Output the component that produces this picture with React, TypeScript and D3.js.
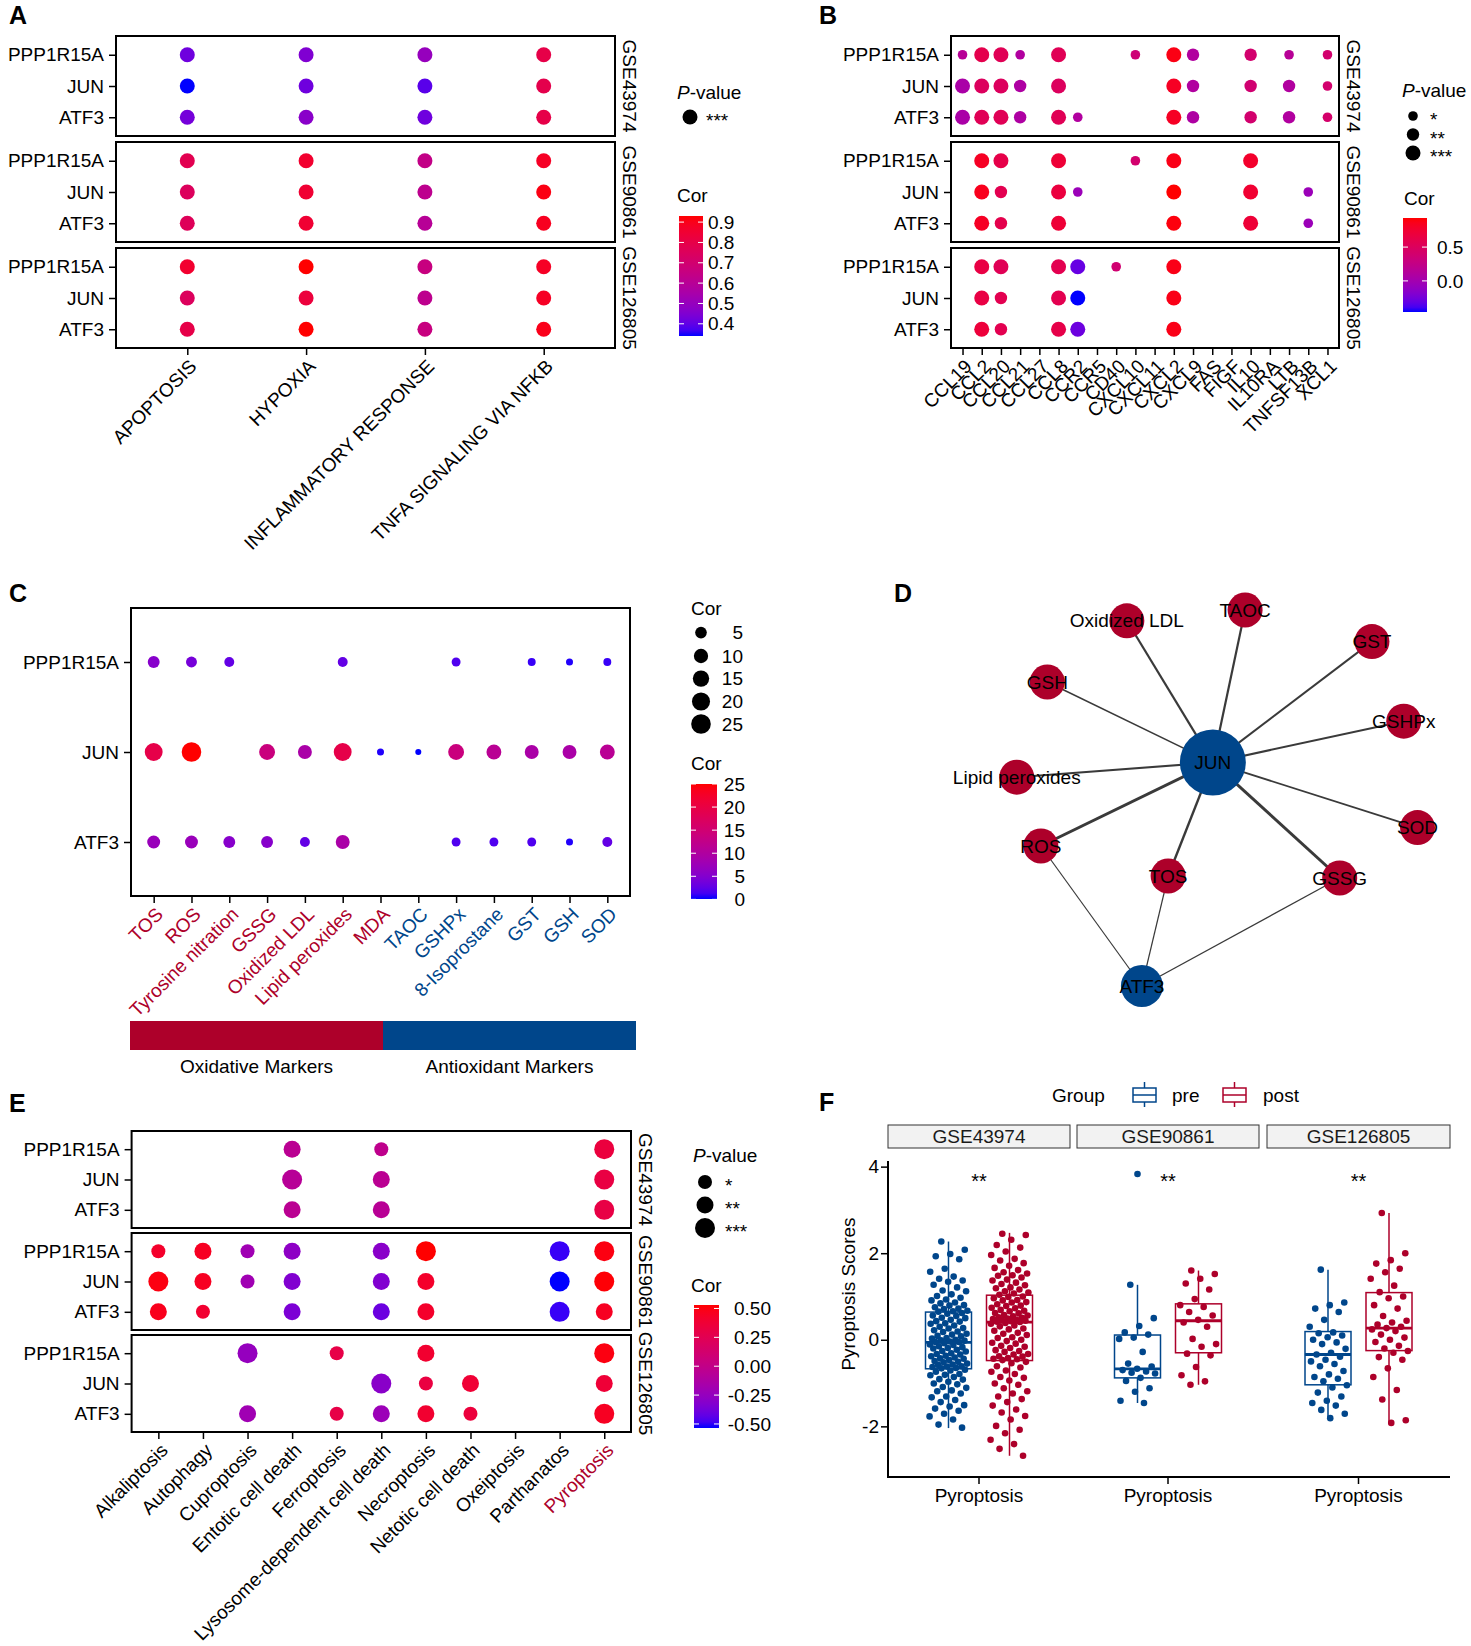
import * as d3 from "d3";
import { useEffect, useRef } from "react";

const FONT = "'Liberation Sans', Arial, Helvetica, sans-serif";
const FS = 19;
const RED = "#AD002A";
const BLUE = "#00468B";
const W = 1471;
const H = 1646;

const genes = ["PPP1R15A", "JUN", "ATF3"];
const datasets = ["GSE43974", "GSE90861", "GSE126805"];
const pStars = ["*", "**", "***"];

// ---- A: hallmark pathways (rows = genes, cols = pathways), all P < 0.001
const hallmarks = ["APOPTOSIS", "HYPOXIA", "INFLAMMATORY RESPONSE", "TNFA SIGNALING VIA NFKB"];
const aCorGSE43974 = [
  [0.42, 0.45, 0.5, 0.8],
  [0.34, 0.42, 0.39, 0.79],
  [0.43, 0.47, 0.42, 0.8],
];
const aCorGSE90861 = [
  [0.78, 0.86, 0.64, 0.88],
  [0.75, 0.85, 0.62, 0.91],
  [0.76, 0.85, 0.6, 0.89],
];
const aCorGSE126805 = [
  [0.86, 0.93, 0.66, 0.88],
  [0.75, 0.83, 0.62, 0.88],
  [0.8, 0.93, 0.66, 0.9],
];
const aTicks = [0.4, 0.5, 0.6, 0.7, 0.8, 0.9];

// ---- B: immune genes, [gene, item, cor, stars]
const chemokines = [
  "CCL19", "CCL2", "CCL20", "CCL21", "CCL27", "CCL8", "CCR2", "CCR5", "CD40", "CXCL10",
  "CXCL11", "CXCL2", "CXCL9", "FAS", "FIGF", "IL10", "IL10RA", "LTB", "TNFSF13B", "XCL1",
];
const bGSE43974 = [
  ["PPP1R15A", "CCL19", 0.15, 1], ["PPP1R15A", "CCL2", 0.6, 3], ["PPP1R15A", "CCL20", 0.55, 3],
  ["PPP1R15A", "CCL21", 0.1, 1], ["PPP1R15A", "CCL8", 0.55, 3], ["PPP1R15A", "CXCL10", 0.35, 1],
  ["PPP1R15A", "CXCL2", 0.88, 3], ["PPP1R15A", "CXCL9", 0.1, 2], ["PPP1R15A", "IL10", 0.4, 2],
  ["PPP1R15A", "LTB", 0.15, 1], ["PPP1R15A", "XCL1", 0.4, 1],
  ["JUN", "CCL19", 0.05, 3], ["JUN", "CCL2", 0.5, 3], ["JUN", "CCL20", 0.5, 3], ["JUN", "CCL21", 0.08, 2],
  ["JUN", "CCL8", 0.5, 3], ["JUN", "CXCL2", 0.82, 3], ["JUN", "CXCL9", 0.1, 2], ["JUN", "IL10", 0.38, 2],
  ["JUN", "LTB", 0.1, 2], ["JUN", "XCL1", 0.4, 1],
  ["ATF3", "CCL19", 0.05, 3], ["ATF3", "CCL2", 0.55, 3], ["ATF3", "CCL20", 0.55, 3], ["ATF3", "CCL21", 0.08, 2],
  ["ATF3", "CCL8", 0.55, 3], ["ATF3", "CCR2", 0.1, 1], ["ATF3", "CXCL2", 0.82, 3], ["ATF3", "CXCL9", 0.08, 2],
  ["ATF3", "IL10", 0.4, 2], ["ATF3", "LTB", 0.1, 2], ["ATF3", "XCL1", 0.42, 1],
];
const bGSE90861 = [
  ["PPP1R15A", "CCL2", 0.82, 3], ["PPP1R15A", "CCL20", 0.62, 3], ["PPP1R15A", "CCL8", 0.72, 3],
  ["PPP1R15A", "CXCL10", 0.4, 1], ["PPP1R15A", "CXCL2", 0.87, 3], ["PPP1R15A", "IL10", 0.78, 3],
  ["JUN", "CCL2", 0.85, 3], ["JUN", "CCL20", 0.58, 2], ["JUN", "CCL8", 0.68, 3], ["JUN", "CCR2", -0.05, 1],
  ["JUN", "CXCL2", 0.93, 3], ["JUN", "IL10", 0.75, 3], ["JUN", "TNFSF13B", -0.05, 1],
  ["ATF3", "CCL2", 0.82, 3], ["ATF3", "CCL20", 0.6, 2], ["ATF3", "CCL8", 0.72, 3],
  ["ATF3", "CXCL2", 0.9, 3], ["ATF3", "IL10", 0.72, 3], ["ATF3", "TNFSF13B", -0.05, 1],
];
const bGSE126805 = [
  ["PPP1R15A", "CCL2", 0.65, 3], ["PPP1R15A", "CCL20", 0.55, 3], ["PPP1R15A", "CCL8", 0.58, 3],
  ["PPP1R15A", "CCR2", -0.3, 3], ["PPP1R15A", "CD40", 0.38, 1], ["PPP1R15A", "CXCL2", 0.87, 3],
  ["JUN", "CCL2", 0.65, 3], ["JUN", "CCL20", 0.58, 2], ["JUN", "CCL8", 0.58, 3], ["JUN", "CCR2", -0.46, 3],
  ["JUN", "CXCL2", 0.87, 3],
  ["ATF3", "CCL2", 0.7, 3], ["ATF3", "CCL20", 0.58, 2], ["ATF3", "CCL8", 0.62, 3], ["ATF3", "CCR2", -0.28, 3],
  ["ATF3", "CXCL2", 0.87, 3],
];
const bTicks = [0, 0.5];

// ---- C: oxidative stress markers
const cMarkers = [
  "TOS", "ROS", "Tyrosine nitration", "GSSG", "Oxidized LDL", "Lipid peroxides", "MDA",
  "TAOC", "GSHPx", "8-Isoprostane", "GST", "GSH", "SOD",
];
const cMarkerGroup = ["ox", "ox", "ox", "ox", "ox", "ox", "ox", "anti", "anti", "anti", "anti", "anti", "anti"];
const cGroups = ["Oxidative Markers", "Antioxidant Markers"];
const cCorPPP1R15A = [5.4, 4.0, 2.7, null, null, 2.7, null, null, 1.7, null, 0.9, 0.4, 0.9];
const cCorJUN = [19.4, 25, null, 13.8, 9.2, 19.4, 0.4, 0.08, 13.8, 11.3, 9.2, 9.2, 11.3];
const cCorATF3 = [7.2, 7.2, 5.4, 5.4, 2.7, 9.2, null, null, 1.7, 1.7, 1.7, 0.4, 2.7];
const cSizeTicks = [5, 10, 15, 20, 25];
const cColorTicks = [0, 5, 10, 15, 20, 25];

// ---- D: network
const dNodes = ["JUN", "ATF3", "Oxidized LDL", "TAOC", "GST", "GSH", "GSHPx", "Lipid peroxides", "SOD", "ROS", "TOS", "GSSG"];
const dNodeKind = ["gene", "gene", "marker", "marker", "marker", "marker", "marker", "marker", "marker", "marker", "marker", "marker"];
const dLayoutX = [49.5, 33.0, 29.5, 57.0, 86.5, 11.0, 93.9, 3.9, 97.1, 9.5, 39.1, 79.0];
const dLayoutY = [40.6, 96.5, 5.2, 2.5, 10.4, 20.5, 30.3, 44.3, 56.9, 61.5, 69.0, 69.5];
const dEdges = [
  ["JUN", "Oxidized LDL", 2.2], ["JUN", "TAOC", 2.2], ["JUN", "GST", 2], ["JUN", "GSH", 1.6],
  ["JUN", "GSHPx", 2], ["JUN", "Lipid peroxides", 2], ["JUN", "SOD", 1.8], ["JUN", "ROS", 3],
  ["JUN", "TOS", 2.4], ["JUN", "GSSG", 3], ["ATF3", "ROS", 1.2], ["ATF3", "TOS", 1.2], ["ATF3", "GSSG", 1.2],
];

// ---- E: cell death types
const deathTypes = [
  "Alkaliptosis", "Autophagy", "Cuproptosis", "Entotic cell death", "Ferroptosis",
  "Lysosome-dependent cell death", "Necroptosis", "Netotic cell death", "Oxeiptosis", "Parthanatos", "Pyroptosis",
];
const eGSE43974 = [
  ["PPP1R15A", "Entotic cell death", -0.05, 2], ["PPP1R15A", "Lysosome-dependent cell death", -0.02, 1],
  ["PPP1R15A", "Pyroptosis", 0.34, 3],
  ["JUN", "Entotic cell death", -0.07, 3], ["JUN", "Lysosome-dependent cell death", -0.05, 2], ["JUN", "Pyroptosis", 0.32, 3],
  ["ATF3", "Entotic cell death", -0.05, 2], ["ATF3", "Lysosome-dependent cell death", -0.06, 2], ["ATF3", "Pyroptosis", 0.31, 3],
];
const eGSE90861 = [
  ["PPP1R15A", "Alkaliptosis", 0.42, 1], ["PPP1R15A", "Autophagy", 0.45, 2], ["PPP1R15A", "Cuproptosis", -0.2, 1],
  ["PPP1R15A", "Entotic cell death", -0.28, 2], ["PPP1R15A", "Lysosome-dependent cell death", -0.3, 2],
  ["PPP1R15A", "Necroptosis", 0.53, 3], ["PPP1R15A", "Parthanatos", -0.5, 3], ["PPP1R15A", "Pyroptosis", 0.5, 3],
  ["JUN", "Alkaliptosis", 0.5, 3], ["JUN", "Autophagy", 0.45, 2], ["JUN", "Cuproptosis", -0.2, 1],
  ["JUN", "Entotic cell death", -0.33, 2], ["JUN", "Lysosome-dependent cell death", -0.33, 2],
  ["JUN", "Necroptosis", 0.42, 2], ["JUN", "Parthanatos", -0.535, 3], ["JUN", "Pyroptosis", 0.52, 3],
  ["ATF3", "Alkaliptosis", 0.47, 2], ["ATF3", "Autophagy", 0.4, 1], ["ATF3", "Entotic cell death", -0.35, 2],
  ["ATF3", "Lysosome-dependent cell death", -0.4, 2], ["ATF3", "Necroptosis", 0.42, 2],
  ["ATF3", "Parthanatos", -0.5, 3], ["ATF3", "Pyroptosis", 0.45, 2],
];
const eGSE126805 = [
  ["PPP1R15A", "Cuproptosis", -0.25, 3], ["PPP1R15A", "Ferroptosis", 0.3, 1], ["PPP1R15A", "Necroptosis", 0.4, 2],
  ["PPP1R15A", "Pyroptosis", 0.5, 3],
  ["JUN", "Lysosome-dependent cell death", -0.3, 3], ["JUN", "Necroptosis", 0.33, 1],
  ["JUN", "Netotic cell death", 0.38, 2], ["JUN", "Pyroptosis", 0.37, 2],
  ["ATF3", "Cuproptosis", -0.2, 2], ["ATF3", "Ferroptosis", 0.3, 1], ["ATF3", "Lysosome-dependent cell death", -0.22, 2],
  ["ATF3", "Necroptosis", 0.4, 2], ["ATF3", "Netotic cell death", 0.35, 1], ["ATF3", "Pyroptosis", 0.45, 3],
];
const eTicks = [-0.5, -0.25, 0, 0.25, 0.5];

// ---- F: pyroptosis scores pre / post
const fGroups = ["pre", "post"];
const fTerm = "Pyroptosis";
const fSignif = ["**", "**", "**"];
const fSignifY = 3.85;
// [min whisker, Q1, median, Q3, max whisker]
const fPreStats = [[-2.04, -0.67, -0.06, 0.64, 2.27], [-1.46, -0.88, -0.67, 0.11, 1.27], [-1.81, -1.04, -0.34, 0.19, 1.62]];
const fPostStats = [[-2.68, -0.48, 0.41, 1.03, 2.47], [-1.04, -0.3, 0.44, 0.83, 1.6], [-1.92, -0.25, 0.27, 1.09, 2.93]];
const fPreOutliers = [[], [3.83], []];
const fPostOutliers = [[], [], []];
const fPreGSE43974 = [
  2.27, 2.08, 1.98, 1.93, 1.86, 1.64, 1.57, 1.46, 1.41, 1.37, 1.34, 1.27, 1.21, 1.14, 1.12, 1.05, 1.01, 0.97, 0.93, 0.91,
  0.86, 0.84, 0.8, 0.79, 0.75, 0.72, 0.71, 0.67, 0.66, 0.65, 0.62, 0.6, 0.56, 0.55, 0.51, 0.5, 0.46, 0.43, 0.42, 0.38,
  0.37, 0.33, 0.3, 0.27, 0.26, 0.22, 0.19, 0.18, 0.14, 0.12, 0.09, 0.08, 0.04, 0.03, 0.0, -0.01, -0.02, -0.04, -0.05, -0.05,
  -0.08, -0.11, -0.12, -0.15, -0.17, -0.19, -0.2, -0.23, -0.26, -0.27, -0.31, -0.33, -0.34, -0.37, -0.38, -0.41, -0.43,
  -0.44, -0.47, -0.49, -0.51, -0.52, -0.55, -0.57, -0.58, -0.61, -0.62, -0.63, -0.65, -0.66, -0.69, -0.71, -0.74, -0.79,
  -0.81, -0.82, -0.86, -0.91, -0.92, -0.97, -1.01, -1.03, -1.09, -1.11, -1.17, -1.19, -1.24, -1.31, -1.33, -1.39, -1.44,
  -1.51, -1.54, -1.59, -1.64, -1.71, -1.77, -1.84, -1.96, -2.03,
];
const fPostGSE43974 = [
  2.45, 2.42, 2.31, 2.19, 2.13, 2.04, 1.96, 1.87, 1.83, 1.77, 1.71, 1.66, 1.61, 1.56, 1.53, 1.49, 1.48, 1.44, 1.39, 1.37,
  1.32, 1.29, 1.26, 1.21, 1.19, 1.16, 1.12, 1.09, 1.07, 1.04, 1.0, 0.99, 0.96, 0.92, 0.91, 0.87, 0.86, 0.82, 0.79, 0.78,
  0.74, 0.73, 0.69, 0.67, 0.66, 0.62, 0.61, 0.57, 0.56, 0.54, 0.52, 0.51, 0.49, 0.48, 0.46, 0.45, 0.44, 0.43, 0.42, 0.41,
  0.39, 0.37, 0.33, 0.31, 0.26, 0.24, 0.21, 0.16, 0.14, 0.11, 0.06, 0.04, 0.0, -0.03, -0.07, -0.09, -0.14, -0.16, -0.19,
  -0.24, -0.26, -0.28, -0.33, -0.34, -0.38, -0.39, -0.42, -0.44, -0.45, -0.47, -0.51, -0.54, -0.61, -0.64, -0.71, -0.74,
  -0.79, -0.86, -0.88, -0.94, -1.01, -1.04, -1.12, -1.19, -1.24, -1.31, -1.37, -1.44, -1.52, -1.61, -1.68, -1.76, -1.84,
  -1.99, -2.08, -2.16, -2.31, -2.41, -2.52, -2.68,
];
const fPreGSE90861 = [1.27, 0.5, 0.32, 0.17, 0.12, 0.05, 0.02, -0.28, -0.55, -0.62, -0.67, -0.7, -0.73, -0.76, -0.78, -0.88, -0.95, -1.12, -1.2, -1.41, -1.46];
const fPostGSE90861 = [1.6, 1.52, 1.41, 1.3, 1.16, 0.94, 0.8, 0.76, 0.64, 0.56, 0.46, 0.4, 0.3, 0.02, -0.1, -0.16, -0.32, -0.36, -0.63, -0.82, -0.96, -1.04];
const fPreGSE126805 = [
  1.62, 0.86, 0.8, 0.72, 0.64, 0.46, 0.3, 0.17, 0.15, 0.1, 0.06, 0.0, -0.06, -0.1, -0.21, -0.3, -0.34, -0.39, -0.46,
  -0.5, -0.56, -0.61, -0.72, -0.8, -0.86, -0.9, -0.96, -1.05, -1.1, -1.22, -1.31, -1.41, -1.46, -1.52, -1.62, -1.71, -1.81,
];
const fPostGSE126805 = [
  2.93, 2.0, 1.84, 1.76, 1.64, 1.56, 1.41, 1.25, 1.1, 1.0, 0.96, 0.8, 0.72, 0.55, 0.44, 0.4, 0.35, 0.3, 0.27, 0.24, 0.2,
  0.12, 0.05, 0.0, -0.05, -0.14, -0.2, -0.26, -0.3, -0.4, -0.46, -0.66, -0.86, -1.16, -1.38, -1.86, -1.92,
];
const fYTicks = [-2, 0, 2, 4];

type Dot = { ds: string; gene: string; item: string; cor: number; p: number };

const lab = d3.interpolateLab("#0000FF", "#FF0000");

function toDots(ds: string, rows: any[]): Dot[] {
  return rows.map((r) => ({ ds, gene: r[0], item: r[1], cor: r[2], p: r[3] }));
}

function styleAxis(ax: any, size = FS) {
  ax.select(".domain").remove();
  ax.selectAll("line").attr("stroke", "#000").attr("stroke-width", 1.5);
  ax.selectAll("text").attr("font-size", size).attr("font-family", FONT).attr("fill", "#000");
}

function txt(g: any, x: number, y: number, s: string, size = FS, anchor = "start") {
  return g.append("text").attr("x", x).attr("y", y).attr("font-size", size).attr("text-anchor", anchor).attr("fill", "#000").text(s);
}

function pTitle(g: any, x: number, y: number) {
  const t = g.append("text").attr("x", x).attr("y", y).attr("font-size", FS);
  t.append("tspan").attr("font-style", "italic").text("P");
  t.append("tspan").text("-value");
}

// rotated category labels: end of text sits just below the tick
function slantLabels(root: any, items: string[], x: any, bottom: number, color: (s: string) => string) {
  root.append("g").selectAll("text").data(items).join("text")
    .attr("transform", (d: string) => `translate(${x(d)! + 1},${bottom + 10}) rotate(-45)`)
    .attr("text-anchor", "end").attr("dy", "0.71em").attr("font-size", FS)
    .attr("fill", color)
    .text((d: string) => d);
}

function facetDots(root: any, o: any) {
  const x = d3.scalePoint<string>().domain(o.items).range([o.left, o.right]).padding(0.6);
  o.tops.forEach((top: number, k: number) => {
    const ds = datasets[k];
    const y = d3.scalePoint<string>().domain(genes).range([top, top + o.h]).padding(0.6);
    const g = root.append("g");
    g.selectAll("circle")
      .data(o.dots.filter((d: Dot) => d.ds === ds))
      .join("circle")
      .attr("cx", (d: Dot) => x(d.item)!)
      .attr("cy", (d: Dot) => y(d.gene)!)
      .attr("r", o.r)
      .attr("fill", (d: Dot) => o.color(d.cor));
    g.append("rect")
      .attr("x", o.left).attr("y", top).attr("width", o.right - o.left).attr("height", o.h)
      .attr("fill", "none").attr("stroke", "#000").attr("stroke-width", 2);
    const ay = g.append("g").attr("transform", `translate(${o.left},0)`).call(d3.axisLeft(y).tickSize(7).tickPadding(5));
    styleAxis(ay);
    g.append("text")
      .attr("transform", `translate(${o.right + 15},${top + o.h / 2}) rotate(90)`)
      .attr("text-anchor", "middle").attr("dy", "0.35em").attr("font-size", FS).attr("fill", "#000")
      .text(ds);
  });
  const bottom = o.tops[o.tops.length - 1] + o.h;
  const ax = root.append("g").attr("transform", `translate(0,${bottom})`)
    .call(d3.axisBottom(x).tickSize(7).tickFormat(() => ""));
  styleAxis(ax);
  slantLabels(root, o.items, x, bottom, (d: string) => (o.itemColor ? o.itemColor(d) : "#000"));
}

function colorBar(root: any, id: string, o: any) {
  const grad = root.append("defs").append("linearGradient").attr("id", id)
    .attr("x1", 0).attr("y1", 1).attr("x2", 0).attr("y2", 0);
  d3.range(0, 21).forEach((i) => {
    const t = i / 20;
    grad.append("stop").attr("offset", t).attr("stop-color", o.color(o.domain[0] + t * (o.domain[1] - o.domain[0])));
  });
  root.append("rect").attr("x", o.x).attr("y", o.y).attr("width", o.w).attr("height", o.h).attr("fill", `url(#${id})`);
  const s = d3.scaleLinear().domain(o.domain).range([o.y + o.h, o.y]);
  const g = root.append("g");
  o.ticks.forEach((v: number) => {
    const yy = s(v);
    g.append("line").attr("x1", o.x).attr("x2", o.x + 5).attr("y1", yy).attr("y2", yy).attr("stroke", "#fff").attr("stroke-width", 1);
    g.append("line").attr("x1", o.x + o.w - 5).attr("x2", o.x + o.w).attr("y1", yy).attr("y2", yy).attr("stroke", "#fff").attr("stroke-width", 1);
    txt(g, o.labelX, yy, o.fmt(v), FS, o.anchor).attr("dy", "0.35em");
  });
}

function sizeLegend(root: any, o: any) {
  o.ys.forEach((yy: number, i: number) => {
    root.append("circle").attr("cx", o.x).attr("cy", yy).attr("r", o.rs[i]).attr("fill", "#000");
    txt(root, o.labelX, yy + (o.dy ?? 0), o.labels[i], FS, o.anchor ?? "start").attr("dy", o.dy === undefined ? "0.35em" : null);
  });
}

export default function App() {
  const ref = useRef<SVGSVGElement | null>(null);

  useEffect(() => {
    if (!ref.current) return;
    const svg = d3.select(ref.current);
    svg.selectAll("*").remove();
    svg.append("rect").attr("width", W).attr("height", H).attr("fill", "#fff");
    const root = svg.append("g").attr("font-family", FONT);

    // panel letters
    [["A", 9, 24], ["B", 819, 24], ["C", 9, 602], ["D", 894, 602], ["E", 9, 1112], ["F", 819, 1111]].forEach(([l, x, y]) =>
      txt(root, x as number, y as number, l as string, 25).attr("font-weight", "bold")
    );

    // ---------------- A
    const aDots: Dot[] = [aCorGSE43974, aCorGSE90861, aCorGSE126805].flatMap((m, k) =>
      m.flatMap((row, gi) => row.map((c, ii) => ({ ds: datasets[k], gene: genes[gi], item: hallmarks[ii], cor: c, p: 3 })))
    );
    const aDom = d3.extent(aDots, (d) => d.cor) as [number, number];
    const aColor = d3.scaleSequential(lab).domain(aDom);
    const gA = root.append("g");
    facetDots(gA, { left: 116, right: 615, tops: [36, 142, 248], h: 100, items: hallmarks, dots: aDots, color: aColor, r: () => 7.5 });
    pTitle(gA, 677, 98.5);
    sizeLegend(gA, { x: 690, ys: [117], rs: [7.5], labels: ["***"], labelX: 706, dy: 10 });
    txt(gA, 677, 202, "Cor");
    colorBar(gA, "gradA", { x: 679, y: 216, w: 24, h: 120, domain: aDom, color: aColor, ticks: aTicks, fmt: (v: number) => v.toFixed(1), labelX: 708, anchor: "start" });

    // ---------------- B
    const bDots = [...toDots(datasets[0], bGSE43974), ...toDots(datasets[1], bGSE90861), ...toDots(datasets[2], bGSE126805)];
    const bDom = d3.extent(bDots, (d) => d.cor) as [number, number];
    const bColor = d3.scaleSequential(lab).domain(bDom);
    const bR = [4.8, 6.2, 7.5];
    const gB = root.append("g");
    facetDots(gB, { left: 951, right: 1339, tops: [36, 142, 248], h: 100, items: chemokines, dots: bDots, color: bColor, r: (d: Dot) => bR[d.p - 1] });
    pTitle(gB, 1402, 97);
    sizeLegend(gB, { x: 1413, ys: [116, 134.5, 153], rs: bR, labels: pStars, labelX: 1430, dy: 10 });
    txt(gB, 1404, 204.5, "Cor");
    colorBar(gB, "gradB", { x: 1403, y: 218, w: 24, h: 94, domain: bDom, color: bColor, ticks: bTicks, fmt: (v: number) => v.toFixed(1), labelX: 1437, anchor: "start" });

    // ---------------- C
    const gC = root.append("g");
    const cDots = [cCorPPP1R15A, cCorJUN, cCorATF3].flatMap((row, gi) =>
      row.map((v, i) => ({ gene: genes[gi], item: cMarkers[i], cor: v })).filter((d) => d.cor !== null)
    ) as { gene: string; item: string; cor: number }[];
    const cx = d3.scalePoint<string>().domain(cMarkers).range([131, 630]).padding(0.6);
    const cy = d3.scalePoint<string>().domain(genes).range([608, 896]).padding(0.6);
    const cSize = d3.scaleSqrt().domain([0, 25]).range([2.6, 9.8]);
    const cDom = d3.extent(cDots, (d) => d.cor) as [number, number];
    const cColor = d3.scaleSequential(lab).domain(cDom);
    gC.selectAll("circle").data(cDots).join("circle")
      .attr("cx", (d) => cx(d.item)!).attr("cy", (d) => cy(d.gene)!)
      .attr("r", (d) => cSize(d.cor)).attr("fill", (d) => cColor(d.cor));
    gC.append("rect").attr("x", 131).attr("y", 608).attr("width", 499).attr("height", 288)
      .attr("fill", "none").attr("stroke", "#000").attr("stroke-width", 2);
    styleAxis(gC.append("g").attr("transform", "translate(131,0)").call(d3.axisLeft(cy).tickSize(7).tickPadding(5)));
    styleAxis(gC.append("g").attr("transform", "translate(0,896)").call(d3.axisBottom(cx).tickSize(7).tickFormat(() => "")));
    const markerColor = (m: string) => (cMarkerGroup[cMarkers.indexOf(m)] === "ox" ? RED : BLUE);
    slantLabels(gC, cMarkers, cx, 896, markerColor);
    const cBand = d3.scaleBand().domain(cGroups).range([130, 636]);
    gC.selectAll("rect.grp").data(cGroups).join("rect").attr("class", "grp")
      .attr("x", (d) => cBand(d)!).attr("y", 1021).attr("width", cBand.bandwidth()).attr("height", 29)
      .attr("fill", (d, i) => (i === 0 ? RED : BLUE));
    cGroups.forEach((gname) => txt(gC, cBand(gname)! + cBand.bandwidth() / 2, 1073, gname, FS, "middle"));
    txt(gC, 691, 615, "Cor");
    sizeLegend(gC, { x: 701, ys: [632.6, 656, 678.6, 701.5, 724], rs: cSizeTicks.map((v) => cSize(v)), labels: cSizeTicks.map(String), labelX: 743, anchor: "end" });
    txt(gC, 691, 770, "Cor");
    colorBar(gC, "gradC", { x: 691, y: 784, w: 26, h: 115, domain: cDom, color: cColor, ticks: cColorTicks, fmt: (v: number) => String(v), labelX: 745, anchor: "end" });

    // ---------------- D
    const gD = root.append("g");
    const dx = d3.scaleLinear().domain([0, 100]).range([1000, 1430]);
    const dy = d3.scaleLinear().domain([0, 100]).range([600, 1000]);
    const deg = (n: string) => dEdges.filter((e) => e[0] === n || e[1] === n).length;
    const geneR = d3.scaleSqrt().domain([3, 10]).range([21, 33]);
    const nodeR = (i: number) => (dNodeKind[i] === "gene" ? geneR(deg(dNodes[i])) : 17.5);
    const pos = (n: string) => {
      const i = dNodes.indexOf(n);
      return [dx(dLayoutX[i]), dy(dLayoutY[i])];
    };
    const edgeW = d3.scaleLinear().domain([1, 3]).range([1, 3]);
    gD.selectAll("line").data(dEdges).join("line")
      .attr("x1", (e) => pos(e[0] as string)[0]).attr("y1", (e) => pos(e[0] as string)[1])
      .attr("x2", (e) => pos(e[1] as string)[0]).attr("y2", (e) => pos(e[1] as string)[1])
      .attr("stroke", "#3a3a3a").attr("stroke-width", (e) => edgeW(e[2] as number));
    gD.selectAll("circle").data(dNodes).join("circle")
      .attr("cx", (n) => pos(n)[0]).attr("cy", (n) => pos(n)[1])
      .attr("r", (n, i) => nodeR(i)).attr("fill", (n, i) => (dNodeKind[i] === "gene" ? BLUE : RED));
    dNodes.forEach((n) => txt(gD, pos(n)[0], pos(n)[1], n, FS, "middle").attr("dy", "0.35em"));

    // ---------------- E
    const eDots = [...toDots(datasets[0], eGSE43974), ...toDots(datasets[1], eGSE90861), ...toDots(datasets[2], eGSE126805)];
    const eDom = d3.extent(eDots, (d) => d.cor) as [number, number];
    const eColor = d3.scaleSequential(lab).domain(eDom);
    const eR = [7, 8.5, 10];
    const gE = root.append("g");
    facetDots(gE, {
      left: 131.6, right: 631, tops: [1131, 1233, 1335], h: 97, items: deathTypes, dots: eDots, color: eColor,
      r: (d: Dot) => eR[d.p - 1], itemColor: (s: string) => (s === "Pyroptosis" ? RED : "#000"),
    });
    pTitle(gE, 693, 1161.5);
    sizeLegend(gE, { x: 705, ys: [1182, 1205, 1228], rs: eR, labels: pStars, labelX: 725, dy: 10 });
    txt(gE, 691, 1291.5, "Cor");
    colorBar(gE, "gradE", { x: 694, y: 1305, w: 25, h: 123, domain: eDom, color: eColor, ticks: eTicks, fmt: (v: number) => v.toFixed(2), labelX: 771, anchor: "end" });

    // ---------------- F
    const gF = root.append("g");
    const panelX = [[888, 1070], [1077, 1259], [1267, 1450]];
    const yF = d3.scaleLinear().domain([-3.17, 4.13]).range([1477, 1161]);
    const preVals = [fPreGSE43974, fPreGSE90861, fPreGSE126805];
    const postVals = [fPostGSE43974, fPostGSE90861, fPostGSE126805];
    const jit = (i: number) => (((i * 0.6180339887 + 0.31) % 1) - 0.5) * 38;
    datasets.forEach((ds, k) => {
      const [x0, x1] = panelX[k];
      const c = d3.scalePoint<string>().domain([fTerm]).range([x0, x1]).padding(0.5)(fTerm)!;
      const band = d3.scaleBand<string>().domain(fGroups).range([c - 53.5, c + 53.5]).paddingInner(0.246).paddingOuter(0);
      // strip
      gF.append("rect").attr("x", x0).attr("y", 1125).attr("width", x1 - x0).attr("height", 23)
        .attr("fill", "#F2F2F2").attr("stroke", "#333").attr("stroke-width", 1);
      txt(gF, (x0 + x1) / 2, 1136.5, ds, FS, "middle").attr("dy", "0.35em").attr("fill", "#1a1a1a");
      fGroups.forEach((grp, gi) => {
        const st = gi === 0 ? fPreStats[k] : fPostStats[k];
        const col = gi === 0 ? BLUE : RED;
        const bx = band(grp)!;
        const bw = band.bandwidth();
        const mid = bx + bw / 2;
        const bg = gF.append("g").attr("stroke", col).attr("fill", "none");
        bg.append("line").attr("x1", mid).attr("x2", mid).attr("y1", yF(st[3])).attr("y2", yF(st[4])).attr("stroke-width", 1.5);
        bg.append("line").attr("x1", mid).attr("x2", mid).attr("y1", yF(st[1])).attr("y2", yF(st[0])).attr("stroke-width", 1.5);
        bg.append("rect").attr("x", bx).attr("y", yF(st[3])).attr("width", bw).attr("height", yF(st[1]) - yF(st[3])).attr("stroke-width", 1.5);
        bg.append("line").attr("x1", bx).attr("x2", bx + bw).attr("y1", yF(st[2])).attr("y2", yF(st[2])).attr("stroke-width", 2.8);
        const outs = gi === 0 ? fPreOutliers[k] : fPostOutliers[k];
        gF.append("g").selectAll("circle").data(outs).join("circle")
          .attr("cx", mid).attr("cy", (v) => yF(v)).attr("r", 3.3).attr("fill", col);
        const vals = gi === 0 ? preVals[k] : postVals[k];
        gF.append("g").selectAll("circle").data(vals).join("circle")
          .attr("cx", (v, i) => mid + jit(i)).attr("cy", (v) => yF(v)).attr("r", 3.3).attr("fill", col);
      });
      txt(gF, c, yF(fSignifY), fSignif[k], FS + 1, "middle").attr("dy", "0.75em");
      gF.append("line").attr("x1", c).attr("x2", c).attr("y1", 1477).attr("y2", 1484).attr("stroke", "#000").attr("stroke-width", 1.5);
      txt(gF, c, 1502, fTerm, FS, "middle");
    });
    gF.append("line").attr("x1", 887).attr("x2", 1450).attr("y1", 1477).attr("y2", 1477).attr("stroke", "#000").attr("stroke-width", 2);
    gF.append("line").attr("x1", 888).attr("x2", 888).attr("y1", 1161).attr("y2", 1478).attr("stroke", "#000").attr("stroke-width", 2);
    styleAxis(gF.append("g").attr("transform", "translate(888,0)")
      .call(d3.axisLeft(yF).tickValues(fYTicks).tickSize(7).tickPadding(2).tickFormat((d: any) => String(d))));
    txt(gF, 0, 0, "Pyroptosis Scores", FS, "middle").attr("transform", "translate(855,1294) rotate(-90)");
    // legend
    txt(gF, 1052, 1095, "Group", FS).attr("dy", "0.35em");
    [[1133, BLUE, "pre", 1172], [1223, RED, "post", 1263]].forEach(([kx, col, name, tx]) => {
      const x0 = kx as number;
      const lg = gF.append("g").attr("stroke", col as string).attr("fill", "#fff").attr("stroke-width", 1.5);
      lg.append("line").attr("x1", x0 + 11.5).attr("x2", x0 + 11.5).attr("y1", 1082).attr("y2", 1107);
      lg.append("rect").attr("x", x0).attr("y", 1088).attr("width", 23).attr("height", 14);
      lg.append("line").attr("x1", x0).attr("x2", x0 + 23).attr("y1", 1095).attr("y2", 1095);
      txt(gF, tx as number, 1095, name as string, FS).attr("dy", "0.35em");
    });
  }, []);

  return <svg ref={ref} width={W} height={H} style={{ position: "absolute", left: 0, top: 0 }} />;
}
